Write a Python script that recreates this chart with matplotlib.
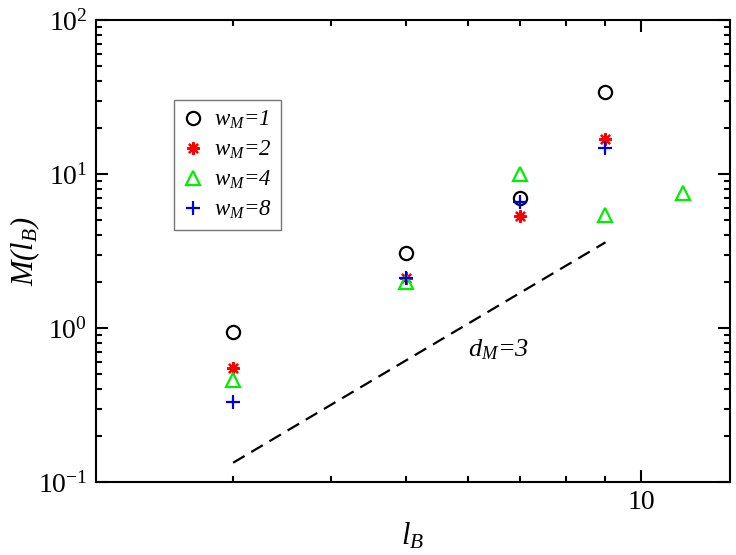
import matplotlib
matplotlib.use('Agg')
import matplotlib.pyplot as plt
from matplotlib.ticker import LogLocator, NullFormatter, FixedLocator, FixedFormatter

plt.rcParams['font.family'] = ['Liberation Serif', 'DejaVu Serif']
plt.rcParams['mathtext.fontset'] = 'custom'
plt.rcParams['mathtext.rm'] = 'Liberation Serif:italic'
plt.rcParams['mathtext.it'] = 'Liberation Serif:italic'

# data
lb_1 = [3, 5, 7, 9]
m_1 = [0.94, 3.08, 7.0, 34.2]
lb_2 = [3, 5, 7, 9]
m_2 = [0.55, 2.1, 5.3, 16.9]
lb_4 = [3, 5, 7, 9, 11.3]
m_4 = [0.46, 2.0, 9.95, 5.4, 7.5]
lb_8 = [3, 5, 7, 9]
m_8 = [0.33, 2.1, 6.6, 14.7]
# guide line with slope d_M=3
guide_x = [3, 9]
guide_y = [0.1334, 3.6]

fig = plt.figure(figsize=(7.36, 5.55), dpi=100)
ax = fig.add_axes([0.130, 0.1315, 0.862, 0.8325])

ax.plot(lb_1, m_1, 'o', ls='none', mfc='none', mec='black', mew=1.6, ms=9.5, label=r'$w_M$=1')
ax.plot(lb_2, m_2, marker=(8, 2, 0), ls='none', color='#ff0000', mew=1.6, ms=9, label=r'$w_M$=2')
ax.plot(lb_4, m_4, '^', ls='none', mfc='none', mec='#00ee00', mew=1.6, ms=10, label=r'$w_M$=4')
ax.plot(lb_8, m_8, '+', ls='none', color='#0000dd', mew=1.6, ms=10, label=r'$w_M$=8')
ax.plot(guide_x, guide_y, color='black', lw=1.6, dashes=(6, 3.5))

ax.text(6.0, 0.72, r'$d_M$=3', fontsize=19, style='italic', ha='left', va='center')

ax.set_xscale('log')
ax.set_yscale('log')
ax.set_xlim(2, 13)
ax.set_ylim(0.1, 100)

ax.xaxis.set_major_locator(FixedLocator([10]))
ax.xaxis.set_major_formatter(FixedFormatter(['10']))
ax.xaxis.set_minor_locator(FixedLocator([3, 4, 5, 6, 7, 8, 9]))
ax.xaxis.set_minor_formatter(NullFormatter())
ax.yaxis.set_major_locator(LogLocator(base=10))
ax.yaxis.set_minor_locator(LogLocator(base=10, subs=range(2, 10)))
ax.yaxis.set_minor_formatter(NullFormatter())

ax.tick_params(which='both', direction='in', top=True, right=True, width=1.5, labelsize=20, pad=6)
ax.tick_params(which='major', length=8.5)
ax.tick_params(which='minor', length=4.5)
for s in ax.spines.values():
    s.set_linewidth(1.5)

ax.set_xlabel(r'$l_B$', fontsize=22, labelpad=4)
ax.set_ylabel(r'$M(l_B)$', fontsize=22)
ax.yaxis.set_label_coords(-0.085, 0.5)

leg = ax.legend(loc='upper left', bbox_to_anchor=(0.1234, 0.827), borderaxespad=0,
                prop={'size': 16.5, 'style': 'italic'}, frameon=True,
                fancybox=False, edgecolor='#555555', handletextpad=0.45, borderpad=0.4,
                labelspacing=0.33, handlelength=0.9)
leg.get_frame().set_linewidth(1.0)

fig.savefig('out.png', dpi=100)
